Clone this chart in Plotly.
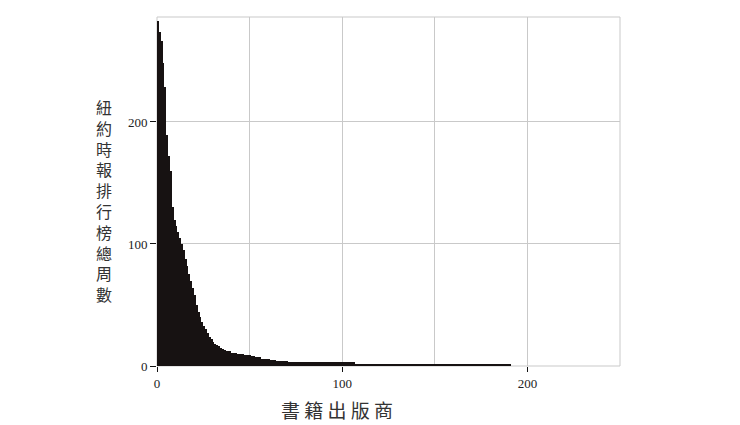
import plotly.graph_objects as go

# total weeks on the NYT list, one bar per publisher (sorted)
head_weeks = [283, 274, 266, 248, 229, 189, 172, 160, 130, 120,
              115, 110, 105, 100, 95, 88, 82, 75, 70, 64,
              58, 50, 44, 40, 36, 33, 30, 27, 24, 22,
              20, 18, 17, 16, 15, 14, 13, 12, 12, 12,
              11, 11, 11, 10, 10, 10, 10, 9, 9, 9,
              9, 8, 8, 7, 7, 7, 6, 6, 6, 6,
              6, 5, 5, 5]
tail_weeks = [4] * 7 + [3] * 36 + [2] * 35 + [1] * 49
weeks = head_weeks + tail_weeks
publishers = [i + 0.5 for i in range(len(weeks))]

x_ticks = [0, 100, 200]
y_ticks = [0, 100, 200]
y_title = "紐約時報排行榜總周數"
x_title = "書 籍 出 版 商"

serif = "Liberation Serif"
cjk = "Noto Sans CJK TC"
grid = "#c9c9c9"

fig = go.Figure()
fig.add_trace(go.Bar(x=publishers, y=weeks, width=1,
                     marker=dict(color="#171212", line=dict(width=0))))

# page adds an 8px body margin, so the figure is a bit smaller than the window
fig.update_layout(
    width=732, height=417,
    margin=dict(l=149, r=120, t=9, b=59),
    paper_bgcolor="white", plot_bgcolor="white",
    showlegend=False, bargap=0,
    font=dict(family=serif, size=13, color="#222"),
)
fig.update_xaxes(range=[0, 250], tickvals=x_ticks, ticks="outside", ticklen=5,
                 tickcolor="#111", showline=False,
                 showgrid=True, gridcolor=grid, zeroline=False,
                 minor=dict(dtick=50, showgrid=True, gridcolor=grid, ticks=""))
fig.update_yaxes(range=[0, 286], tickvals=y_ticks, ticks="outside", ticklen=6,
                 tickcolor="#111", showline=False,
                 showgrid=True, gridcolor=grid, zeroline=False)

# light grey frame round the plot area
fig.add_shape(type="rect", xref="paper", yref="paper", x0=0, x1=1, y0=0, y1=1,
              line=dict(color=grid, width=1), layer="below")

fig.add_annotation(text="<br>".join(y_title), xref="paper", yref="paper",
                   x=-0.115, y=0.473, xanchor="center", yanchor="middle",
                   showarrow=False, font=dict(family=cjk, size=16, color="#333"))
fig.add_annotation(text=x_title, xref="paper", yref="paper",
                   x=0.389, y=-0.126, xanchor="center", yanchor="middle",
                   showarrow=False, font=dict(family=cjk, size=19, color="#333"))

fig.write_html("out.html")
